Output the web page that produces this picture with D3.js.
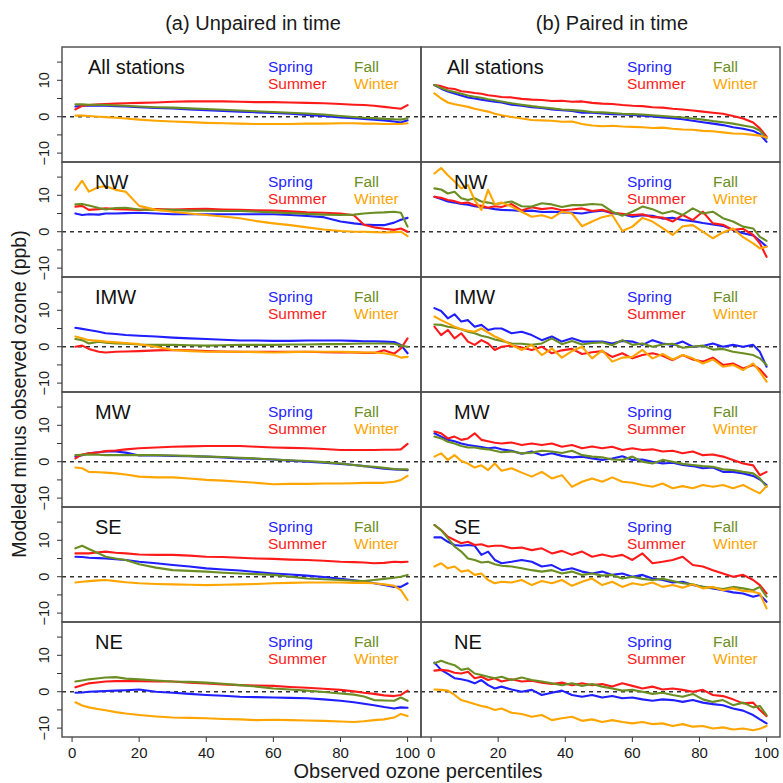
<!DOCTYPE html>
<html><head><meta charset="utf-8">
<script src="https://cdn.jsdelivr.net/npm/d3@7"></script>
<style>body{margin:0;background:#fff}svg{display:block}</style>
</head><body>
<svg id="c" width="783" height="783"></svg>
<script>
// ---------- DATA ----------
const regions = ["All stations", "NW", "IMW", "MW", "SE", "NE"];
const seasons = ["Spring", "Summer", "Fall", "Winter"];
const seasonColors = ["#1f1fff", "#ff1a1a", "#6b8e23", "#ffa500"];
const columnTitles = ["(a) Unpaired in time", "(b) Paired in time"];
const xTicks = [0, 20, 40, 60, 80, 100];
const yTicks = [-10, -5, 0, 5, 10, 15];
const yTickLabels = ["\u221210", "", "0", "", "10", ""];

// percentiles sampled for the unpaired (a) and paired (b) columns
const pctUnpaired = [1,3,5,8,10,13,16,20,25,30,35,40,45,50,55,60,65,70,75,80,84,87,90,93,96,98,100];
const pctPaired = [1,3,5,7,9,11,13,15,17,19,21,24,27,30,33,36,39,42,45,48,51,54,57,60,63,66,69,72,75,78,81,84,87,90,93,96,98,100];

// each: [Spring, Summer, Fall, Winter]
const unpairedAll = [
  [2.8,3.0,3.0,3.0,3.0,2.9,2.8,2.6,2.4,2.3,2.0,1.8,1.6,1.4,1.2,1.0,0.8,0.5,0.2,-0.2,-0.4,-0.6,-0.8,-1.0,-1.3,-1.6,-1.0],
  [2.0,3.0,3.2,3.4,3.5,3.6,3.7,3.8,3.9,4.1,4.2,4.2,4.2,4.1,4.0,4.0,3.9,3.8,3.7,3.5,3.3,3.2,3.0,2.7,2.4,2.2,3.2],
  [3.4,3.4,3.3,3.3,3.2,3.1,3.0,2.8,2.6,2.5,2.3,2.1,1.9,1.7,1.5,1.3,1.1,0.9,0.6,0.2,-0.1,-0.3,-0.4,-0.6,-0.7,-0.8,-0.4],
  [0.3,0.3,0.2,0.0,-0.1,-0.3,-0.5,-0.8,-1.1,-1.3,-1.5,-1.7,-1.8,-1.9,-2.0,-2.0,-2.0,-1.9,-1.9,-1.8,-1.8,-1.9,-1.9,-2.0,-2.0,-2.0,-1.8]
];
const unpairedNW = [
  [5.0,4.6,4.8,4.7,5.0,5.0,5.1,5.2,5.0,4.8,4.8,4.8,4.8,4.8,4.8,4.8,4.6,4.3,4.0,2.8,2.3,2.0,1.8,1.8,2.5,3.3,3.8],
  [6.9,7.1,6.0,6.2,6.4,6.2,6.1,6.0,6.2,6.1,6.2,6.3,6.1,6.0,5.9,5.8,5.6,5.3,5.2,5.0,4.5,1.9,1.2,0.8,0.5,0.9,0.0],
  [7.5,7.6,7.2,6.5,6.1,6.5,6.6,6.1,6.0,6.0,5.8,5.8,5.7,5.7,5.5,5.3,5.1,4.9,4.7,4.6,4.7,5.0,5.2,5.3,5.5,5.2,1.4],
  [11.5,14.0,11.0,12.3,12.5,11.5,11.0,7.1,6.0,5.5,5.0,4.6,4.2,3.7,2.9,2.3,1.8,1.2,0.6,0.2,0.0,0.0,-0.1,-0.2,-0.1,0.0,-1.2]
];
const unpairedIMW = [
  [5.2,4.9,4.6,4.1,3.7,3.5,3.2,3.0,2.8,2.5,2.3,2.1,1.9,1.7,1.7,1.6,1.6,1.7,1.7,1.7,1.6,1.5,1.5,1.4,1.3,0.5,-1.8],
  [0.0,0.3,-0.6,-1.4,-1.6,-1.4,-1.3,-1.2,-1.0,-0.9,-1.0,-1.2,-1.3,-1.4,-1.4,-1.4,-1.4,-1.4,-1.5,-1.6,-1.6,-1.7,-1.7,-1.0,-1.9,-0.5,2.3],
  [2.1,1.8,0.9,1.4,1.1,0.9,0.8,0.6,0.5,0.5,0.4,0.3,0.4,0.5,0.5,0.5,0.6,0.6,0.7,0.7,0.8,0.9,0.9,0.9,0.8,0.3,0.0],
  [2.8,2.3,1.8,1.6,1.4,1.2,1.0,0.7,0.0,-0.9,-1.2,-1.4,-1.4,-1.4,-1.5,-1.6,-1.5,-1.4,-1.4,-1.4,-1.5,-1.6,-1.6,-1.8,-2.3,-3.0,-2.8]
];
const unpairedMW = [
  [1.4,1.8,2.3,2.6,2.8,2.8,2.5,1.7,1.7,1.6,1.5,1.4,1.2,0.9,0.8,0.6,0.3,0.0,-0.3,-0.6,-0.9,-1.2,-1.6,-1.9,-2.1,-2.2,-2.3],
  [0.9,2.0,2.3,2.6,2.9,3.1,3.4,3.7,3.9,4.1,4.2,4.3,4.3,4.3,4.1,3.9,3.8,3.7,3.5,3.2,3.2,3.2,3.2,3.3,3.3,3.4,4.9],
  [1.8,1.9,2.0,1.9,1.8,1.8,1.8,1.8,1.8,1.7,1.6,1.4,1.3,1.1,0.9,0.6,0.4,0.2,-0.1,-0.5,-0.9,-1.2,-1.4,-1.7,-2.0,-2.1,-2.1],
  [-1.6,-1.8,-2.8,-2.9,-3.0,-3.2,-3.5,-4.1,-4.3,-4.3,-4.6,-5.0,-5.2,-5.5,-5.8,-6.2,-6.1,-6.1,-6.0,-6.0,-5.9,-5.8,-5.8,-5.8,-5.5,-5.0,-3.9]
];
const unpairedSE = [
  [5.5,5.4,5.2,5.1,5.0,4.8,4.6,4.1,3.7,3.2,2.8,2.3,2.0,1.7,1.3,0.9,0.6,0.3,-0.1,-0.6,-1.0,-1.3,-1.8,-2.3,-2.8,-2.8,-1.8],
  [6.4,6.4,6.4,6.7,6.9,6.6,6.4,6.1,6.0,6.0,5.8,5.5,5.4,5.2,5.0,4.9,4.7,4.6,4.4,4.1,4.0,3.9,3.7,3.8,4.1,4.0,4.1],
  [7.8,8.5,7.6,6.4,5.5,5.0,4.6,3.4,2.5,1.8,1.6,1.4,1.1,0.9,0.7,0.5,0.0,-0.5,-0.7,-0.9,-1.1,-1.2,-0.9,-0.6,-0.3,0.0,0.5],
  [-1.6,-1.4,-1.2,-1.0,-0.9,-1.2,-1.5,-1.8,-2.0,-2.1,-2.2,-2.3,-2.2,-2.1,-2.0,-1.8,-1.7,-1.6,-1.6,-1.6,-1.7,-1.7,-1.8,-2.1,-2.5,-3.7,-6.4]
];
const unpairedNE = [
  [-0.3,-0.2,0.0,0.1,0.2,0.3,0.4,0.6,0.0,-0.3,-0.6,-0.9,-1.1,-1.4,-1.5,-1.6,-1.7,-1.8,-2.1,-2.5,-2.9,-3.3,-3.7,-4.2,-4.6,-4.3,-4.4],
  [1.2,1.8,2.3,2.6,2.8,2.9,2.9,2.9,2.8,2.8,2.5,2.3,2.0,1.8,1.7,1.6,1.3,1.1,0.8,0.5,0.1,-0.3,-0.6,-1.0,-1.2,-0.9,0.3],
  [2.8,3.1,3.4,3.7,3.9,4.0,3.6,3.4,3.1,2.8,2.7,2.5,2.2,1.8,1.4,0.9,0.6,0.3,-0.1,-0.5,-0.8,-1.3,-2.3,-2.4,-2.5,-1.6,-2.5],
  [-2.9,-3.8,-4.3,-4.8,-5.1,-5.6,-6.0,-6.4,-6.8,-7.1,-7.2,-7.3,-7.5,-7.6,-7.8,-7.7,-7.8,-7.9,-8.0,-8.2,-8.3,-8.1,-7.8,-7.6,-7.1,-6.1,-6.7]
];

const pairedAll = [
  [8.7,7.7,6.9,6.4,5.8,5.3,5.0,4.7,4.4,4.1,3.9,3.3,3.0,2.6,2.4,2.0,1.8,1.6,1.1,1.1,0.9,0.7,0.6,0.5,0.3,0.1,-0.2,-0.4,-0.7,-1.1,-1.5,-1.9,-2.3,-2.9,-3.3,-3.9,-4.8,-6.9],
  [8.7,8.4,7.8,7.6,7.0,6.8,6.5,6.3,5.9,5.7,5.4,5.3,4.9,4.7,4.6,4.3,4.4,4.1,4.2,3.8,3.6,3.5,3.2,3.0,2.9,2.6,2.5,2.2,2.0,1.7,1.4,1.1,0.8,0.2,-0.5,-1.6,-3.2,-5.5],
  [8.7,7.9,7.2,6.8,6.3,5.8,5.5,5.2,4.8,4.5,4.2,3.7,3.3,2.9,2.6,2.3,2.0,1.8,1.6,1.3,1.2,1.0,0.8,0.7,0.6,0.4,0.2,0.0,-0.2,-0.5,-0.8,-1.2,-1.5,-1.9,-2.4,-2.9,-3.8,-6.0],
  [6.4,5.0,3.9,3.4,3.1,2.7,2.2,1.8,1.4,0.8,0.4,-0.1,-0.5,-0.9,-1.0,-1.1,-1.4,-1.3,-2.0,-2.4,-2.6,-2.5,-2.7,-2.8,-2.9,-3.1,-3.0,-3.3,-3.5,-3.6,-3.9,-4.0,-4.3,-4.6,-4.7,-5.0,-5.2,-5.7]
];
const pairedNW = [
  [9.6,9.0,8.3,8.0,7.6,7.4,7.0,6.7,6.5,6.2,6.0,5.9,5.7,5.8,5.4,5.5,5.3,5.2,5.0,5.5,5.8,5.1,4.8,4.1,4.5,4.4,3.6,3.8,3.2,2.9,2.4,2.0,1.6,0.5,-0.4,-1.0,-2.5,-4.1],
  [9.6,9.3,8.7,8.4,7.8,8.0,7.3,7.1,6.6,7.0,6.8,7.6,5.8,6.7,6.2,6.5,5.9,6.1,6.4,5.7,6.0,5.2,4.9,4.6,4.8,4.0,3.9,2.8,4.6,3.2,5.5,2.3,1.9,0.5,0.8,-0.9,-3.2,-6.9],
  [11.9,11.6,10.5,11.0,9.2,8.7,9.2,8.3,8.0,7.6,7.8,8.3,7.0,6.9,7.8,7.5,6.8,7.3,7.3,7.6,7.4,5.5,4.4,5.5,6.9,6.2,5.0,5.7,4.6,6.4,5.0,5.5,3.7,2.8,1.4,0.9,-1.4,-2.5],
  [16.0,17.5,15.5,13.8,11.9,12.8,8.7,6.0,11.5,7.5,8.0,6.9,5.5,4.1,4.5,3.7,5.5,5.0,1.5,2.8,4.0,4.6,0.2,1.4,3.8,2.8,1.0,-0.9,1.5,1.8,0.0,-1.8,-0.2,0.9,-1.5,-3.2,-4.6,-4.1]
];
const pairedIMW = [
  [10.6,9.8,7.8,8.9,6.9,7.3,5.5,6.0,4.6,5.0,5.0,3.7,4.1,3.2,1.8,2.8,1.4,2.3,1.4,1.4,1.4,0.9,1.6,1.4,0.5,1.8,0.9,0.5,1.4,0.0,0.2,0.9,0.0,0.5,0.0,0.5,-1.4,-5.5],
  [5.5,3.2,4.6,2.3,3.7,1.4,0.5,1.8,0.9,-0.9,0.0,0.3,-0.2,-0.9,0.0,-1.8,-1.0,-0.6,-2.0,-1.5,-1.2,-2.8,-1.8,-3.2,-2.3,-1.8,-2.5,-3.7,-2.3,-3.5,-4.1,-3.0,-5.0,-4.6,-6.0,-5.0,-6.2,-8.3],
  [6.1,6.0,5.5,5.2,4.8,4.1,3.7,3.0,2.6,2.0,1.6,0.9,0.8,0.5,0.9,2.3,0.7,1.6,0.6,1.0,1.2,0.4,1.8,0.5,0.9,0.0,0.6,0.8,-0.3,0.0,0.3,-0.8,-0.6,-1.4,-1.8,-2.3,-3.2,-5.0],
  [8.3,7.3,6.4,5.5,4.8,4.4,4.1,5.0,3.9,2.8,2.0,0.5,-0.9,0.5,-2.3,-0.5,-3.0,-1.2,0.0,-3.2,-1.0,-4.1,-3.0,-2.8,-0.9,-3.2,-2.0,-3.5,-2.3,-3.2,-4.6,-3.5,-5.5,-5.0,-6.4,-4.6,-6.9,-9.6]
];
const pairedMW = [
  [7.8,6.9,6.0,5.6,5.0,4.6,4.3,4.0,3.7,3.9,3.4,3.0,2.2,2.8,1.8,2.3,1.6,1.2,1.4,0.9,0.5,0.9,1.5,0.5,0.6,0.0,-0.5,-0.3,-0.9,-1.2,-1.8,-1.6,-2.8,-2.8,-3.2,-3.9,-4.9,-6.4],
  [8.3,7.8,6.4,6.9,6.0,6.4,7.8,6.0,5.6,5.2,5.0,5.3,4.6,5.0,4.6,5.0,4.1,4.6,3.7,4.2,3.7,4.1,3.2,3.7,3.2,3.4,2.8,3.0,2.3,2.8,1.8,2.0,1.4,0.5,-0.5,-1.0,-3.7,-2.8],
  [6.9,6.4,5.5,5.0,4.3,3.9,3.9,3.6,3.4,3.0,2.6,2.8,2.3,2.5,3.0,2.8,2.4,3.0,1.8,1.4,1.2,0.6,0.5,1.4,0.0,-0.5,0.5,0.0,-0.6,-0.9,-1.2,-1.4,-2.1,-2.3,-2.8,-3.2,-4.6,-6.9],
  [1.4,2.3,0.5,1.8,0.2,-0.5,-1.6,-1.0,-2.3,-0.5,-2.5,-1.8,-3.0,-4.1,-2.8,-4.6,-3.7,-6.9,-5.5,-4.6,-5.5,-4.3,-5.5,-5.8,-6.4,-6.9,-6.0,-7.3,-6.7,-7.3,-6.4,-6.9,-6.4,-7.3,-6.4,-7.8,-8.7,-6.7]
];
const pairedSE = [
  [10.8,10.8,9.6,8.7,8.5,8.7,8.5,6.0,6.9,4.6,3.7,4.1,4.6,4.1,2.8,3.2,1.8,2.3,1.4,0.9,1.4,0.5,0.9,0.0,0.5,-0.5,-0.9,-1.6,-1.4,-2.3,-2.8,-3.2,-3.7,-4.3,-4.6,-5.5,-5.0,-6.9],
  [14.2,12.8,11.0,10.1,9.2,9.6,8.7,8.9,8.3,8.5,8.5,7.8,8.0,7.3,7.8,6.4,7.1,6.0,6.9,5.5,6.1,5.5,6.0,4.6,6.4,3.7,4.1,4.6,5.5,3.2,2.8,1.8,0.9,0.0,0.5,-0.9,-2.3,-4.6],
  [14.2,12.8,10.6,8.3,6.9,5.0,4.6,3.9,4.1,3.4,3.0,2.8,2.3,1.8,1.4,1.8,0.9,1.4,0.5,0.9,0.3,0.5,-0.5,0.0,-0.6,-0.9,-0.6,-1.2,-1.8,-2.1,-2.8,-3.0,-3.4,-2.8,-3.2,-3.7,-2.8,-5.5],
  [2.8,3.7,2.3,2.8,1.4,1.8,0.5,0.9,-0.9,-1.8,-1.4,-1.6,-0.9,-2.3,-1.2,-1.8,-0.9,-2.5,-1.4,-0.5,-2.3,-1.4,-2.8,-1.8,-2.3,-1.6,-2.8,-2.3,-3.0,-2.1,-3.2,-2.8,-3.7,-3.2,-3.9,-4.1,-4.6,-8.7]
];
const pairedNE = [
  [8.0,6.0,4.9,3.7,3.4,3.0,2.3,3.2,1.8,0.9,1.4,0.6,0.0,0.5,-0.9,-0.3,0.3,-0.9,-1.4,-0.9,-1.6,-1.2,-1.8,-1.6,-2.1,-2.5,-2.1,-2.3,-2.8,-2.3,-3.0,-3.4,-3.7,-4.6,-5.2,-6.4,-7.6,-8.7],
  [5.8,6.0,5.8,5.2,5.0,5.5,3.7,4.1,3.2,3.7,2.8,3.4,2.8,3.0,2.5,2.1,2.5,1.8,2.3,1.8,2.1,1.4,2.3,1.6,0.9,1.4,0.6,0.9,0.5,0.0,0.5,-0.9,-1.2,-2.1,-3.2,-3.0,-5.0,-6.7],
  [7.8,8.5,7.8,7.3,6.0,6.4,5.0,4.6,4.1,3.7,4.1,3.2,3.9,3.2,2.8,2.3,1.8,2.3,1.6,2.1,1.4,0.9,0.3,0.5,0.0,-0.6,-0.3,-0.9,-1.4,-0.6,-2.1,-2.8,-2.3,-3.7,-3.0,-4.3,-3.9,-6.4],
  [0.6,0.5,0.3,-0.9,-2.3,-2.8,-3.4,-3.9,-4.3,-5.0,-4.6,-5.8,-6.1,-6.9,-6.4,-7.8,-7.3,-6.9,-8.0,-7.6,-8.3,-7.8,-8.3,-8.7,-8.3,-8.9,-8.7,-9.4,-8.9,-9.6,-9.4,-10.1,-9.8,-10.4,-10.1,-10.6,-10.2,-9.4]
];

const unpairedData = [unpairedAll, unpairedNW, unpairedIMW, unpairedMW, unpairedSE, unpairedNE];
const pairedData = [pairedAll, pairedNW, pairedIMW, pairedMW, pairedSE, pairedNE];

// ---------- LAYOUT ----------
const FONT = "'Liberation Sans', Arial, Helvetica, sans-serif";
const TXT = "#1a1a1a";
const svg = d3.select("#c").style("font-family", FONT);
const columns = [
  {x0: 62, x1: 421, pct: pctUnpaired, data: unpairedData, title: columnTitles[0], titleX: 253},
  {x0: 421, x1: 780, pct: pctPaired, data: pairedData, title: columnTitles[1], titleX: 612}
];
const top0 = 47, rowH = 115;
const yDomain = [-12.44, 19.15];

columns.forEach((col, ci) => {
  const x = d3.scaleLinear().domain([-3, 104]).range([col.x0, col.x1]);
  svg.append("text").attr("x", col.titleX).attr("y", 30)
    .attr("text-anchor", "middle").attr("font-size", 20).attr("fill", TXT).text(col.title);

  regions.forEach((reg, ri) => {
    const t = top0 + ri * rowH, b = t + rowH;
    const y = d3.scaleLinear().domain(yDomain).range([b, t]);
    const g = svg.append("g");
    const cid = `clip-${ci}-${ri}`;
    svg.append("clipPath").attr("id", cid).append("rect")
      .attr("x", col.x0).attr("y", t).attr("width", col.x1 - col.x0).attr("height", rowH);

    // zero reference line
    g.append("line").attr("x1", col.x0).attr("x2", col.x1).attr("y1", y(0)).attr("y2", y(0))
      .attr("stroke", "#333").attr("stroke-width", 1.4).attr("stroke-dasharray", "4,4");

    // season lines
    const line = d3.line().x(d => x(d[0])).y(d => y(d[1]));
    const lg = g.append("g").attr("clip-path", `url(#${cid})`);
    seasons.forEach((s, si) => {
      const vals = col.data[ri][si];
      const pts = vals.map((v, i) => [col.pct[i], v]);
      lg.append("path").datum(pts).attr("d", line)
        .attr("fill", "none").attr("stroke", seasonColors[si])
        .attr("stroke-width", 2.1).attr("stroke-linejoin", "round").attr("stroke-linecap", "round");
    });

    // panel frame
    g.append("rect").attr("x", col.x0).attr("y", t).attr("width", col.x1 - col.x0).attr("height", rowH)
      .attr("fill", "none").attr("stroke", "#4a4a4a").attr("stroke-width", 1.4);

    // region label
    g.append("text").attr("x", col.x0 + (ri === 0 ? 26 : 33)).attr("y", t + 26.5)
      .attr("font-size", 20).attr("fill", "#111").text(reg);

    // legend
    const legPos = [[206, 24.5], [206, 41.5], [292, 24.5], [292, 41.5]];
    seasons.forEach((s, si) => {
      g.append("text").attr("x", col.x0 + legPos[si][0]).attr("y", t + legPos[si][1])
        .attr("font-size", 15.5).attr("fill", seasonColors[si]).text(s);
    });

    // y axis (left column only)
    if (ci === 0) {
      yTicks.forEach((tv, k) => {
        g.append("line").attr("x1", col.x0 - 5).attr("x2", col.x0).attr("y1", y(tv)).attr("y2", y(tv))
          .attr("stroke", "#333").attr("stroke-width", 1);
        if (yTickLabels[k]) {
          g.append("text").attr("transform", `translate(${col.x0 - 18},${y(tv)}) rotate(-90)`)
            .attr("text-anchor", "middle").attr("dominant-baseline", "central")
            .attr("font-size", 14.5).attr("fill", TXT).text(yTickLabels[k]);
        }
      });
    }

    // x axis (bottom row only)
    if (ri === regions.length - 1) {
      xTicks.forEach(tv => {
        g.append("line").attr("x1", x(tv)).attr("x2", x(tv)).attr("y1", b).attr("y2", b + 5)
          .attr("stroke", "#333").attr("stroke-width", 1);
        g.append("text").attr("x", x(tv)).attr("y", b + 21)
          .attr("text-anchor", "middle").attr("font-size", 15).attr("fill", TXT).text(tv);
      });
    }
  });
});

// axis titles
svg.append("text").attr("x", 418).attr("y", 778).attr("text-anchor", "middle")
  .attr("font-size", 20).attr("fill", TXT).text("Observed ozone percentiles");
svg.append("text").attr("transform", "translate(19,394) rotate(-90)")
  .attr("text-anchor", "middle").attr("dominant-baseline", "central")
  .attr("font-size", 19.5).attr("fill", TXT).text("Modeled minus observed ozone (ppb)");
</script>
</body></html>
